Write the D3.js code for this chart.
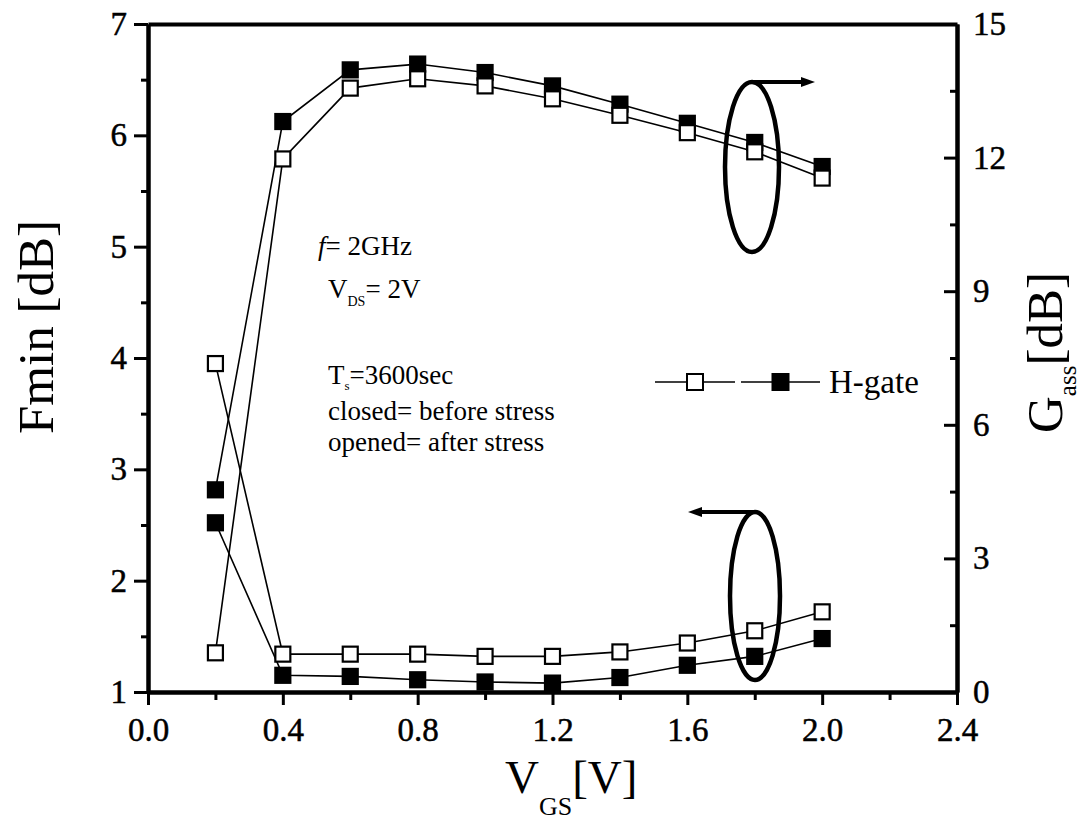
<!DOCTYPE html>
<html>
<head>
<meta charset="utf-8">
<script src="https://cdn.jsdelivr.net/npm/d3@7"></script>
<style>
  body { margin: 0; background: #fff; }
  text { font-family: "Liberation Serif", "Times New Roman", serif; fill: #000; }
</style>
</head>
<body>
<svg id="chart" width="1081" height="820"></svg>
<script>
/* global d3 */

// V_GS sweep and measured values (closed = before stress, opened = after stress)
const vgs = [0.2, 0.4, 0.6, 0.8, 1.0, 1.2, 1.4, 1.6, 1.8, 2.0];
const fminBefore = [2.52, 1.15, 1.14, 1.11, 1.09, 1.08, 1.13, 1.24, 1.32, 1.48];
const fminAfter = [3.95, 1.34, 1.34, 1.34, 1.32, 1.32, 1.36, 1.44, 1.55, 1.72];
const gassBefore = [4.54, 12.81, 13.97, 14.1, 13.91, 13.61, 13.2, 12.77, 12.34, 11.8];
const gassAfter = [0.88, 11.97, 13.56, 13.77, 13.61, 13.32, 12.95, 12.56, 12.13, 11.54];

const xTicks = [0, 0.4, 0.8, 1.2, 1.6, 2.0, 2.4];
const xMinor = [0.2, 0.6, 1.0, 1.4, 1.8, 2.2];
const fminTicks = [1, 2, 3, 4, 5, 6, 7];
const fminMinor = [1.5, 2.5, 3.5, 4.5, 5.5, 6.5];
const gassTicks = [0, 3, 6, 9, 12, 15];
const gassMinor = [1.5, 4.5, 7.5, 10.5, 13.5];

const svg = d3.select('#chart');
const plotLeft = 148;
const plotRight = 957;
const plotTop = 24;
const plotBottom = 692;

const x = d3.scaleLinear().domain([0, 2.4]).range([plotLeft, plotRight]);
const yL = d3.scaleLinear().domain([1, 7]).range([plotBottom, plotTop]);
const yR = d3.scaleLinear().domain([0, 15]).range([plotBottom, plotTop]);

// axes
function styleAxis(g, fontSize) {
  g.select('.domain').attr('stroke-width', 4).attr('stroke', '#000');
  g.selectAll('.tick line').attr('stroke-width', 3).attr('stroke', '#000');
  g.selectAll('.tick text')
    .style('font-family', '"Liberation Serif", "Times New Roman", serif')
    .style('font-size', `${fontSize}px`)
    .attr('fill', '#000')
    .attr('stroke', '#000')
    .attr('stroke-width', 0.5);
}

svg.append('g')
  .attr('transform', `translate(0,${plotBottom})`)
  .call(d3.axisBottom(x).tickValues(xMinor).tickSize(8).tickSizeOuter(0).tickFormat(''))
  .call(g => styleAxis(g, 33));
svg.append('g')
  .attr('transform', `translate(0,${plotBottom})`)
  .call(d3.axisBottom(x).tickValues(xTicks).tickSize(13).tickSizeOuter(0)
    .tickPadding(13).tickFormat(d3.format('.1f')))
  .call(g => styleAxis(g, 33));

svg.append('g')
  .attr('transform', `translate(0,${plotTop})`)
  .call(d3.axisTop(x).tickValues([]).tickSizeOuter(0))
  .call(g => styleAxis(g, 33));

svg.append('g')
  .attr('transform', `translate(${plotLeft},0)`)
  .call(d3.axisLeft(yL).tickValues(fminMinor).tickSize(7).tickSizeOuter(0).tickFormat(''))
  .call(g => styleAxis(g, 33));
svg.append('g')
  .attr('transform', `translate(${plotLeft},0)`)
  .call(d3.axisLeft(yL).tickValues(fminTicks).tickSize(14).tickSizeOuter(0)
    .tickPadding(7).tickFormat(d3.format('d')))
  .call(g => styleAxis(g, 33));

svg.append('g')
  .attr('transform', `translate(${plotRight},0)`)
  .call(d3.axisRight(yR).tickValues(gassMinor).tickSize(-7).tickSizeOuter(0).tickFormat(''))
  .call(g => styleAxis(g, 33));
svg.append('g')
  .attr('transform', `translate(${plotRight},0)`)
  .call(d3.axisRight(yR).tickValues(gassTicks).tickSize(-13).tickSizeOuter(0)
    .tickPadding(16).tickFormat(d3.format('d')))
  .call(g => styleAxis(g, 33));

// axis titles
svg.append('text')
  .attr('transform', 'translate(53,327) rotate(-90)')
  .attr('text-anchor', 'middle')
  .attr('textLength', 214)
  .attr('lengthAdjust', 'spacingAndGlyphs')
  .style('font-size', '50px')
  .text('Fmin [dB]');

const xTitle = svg.append('text')
  .attr('x', 505)
  .attr('y', 793)
  .style('font-size', '47px');
xTitle.append('tspan').text('V');
xTitle.append('tspan').attr('dy', 22).style('font-size', '26px').text('GS');
xTitle.append('tspan').attr('dy', -22).text('[V]');

const yTitle = svg.append('text')
  .attr('transform', 'translate(1062,433) rotate(-90)')
  .style('font-size', '51px');
yTitle.append('tspan').text('G');
yTitle.append('tspan').attr('dy', 14).style('font-size', '25px').text('ass');
yTitle.append('tspan').attr('dy', -14).text('[dB]');

// series
const series = [
  { values: fminBefore, y: yL, filled: true },
  { values: gassBefore, y: yR, filled: true },
  { values: fminAfter, y: yL, filled: false },
  { values: gassAfter, y: yR, filled: false },
];

series.forEach((s) => {
  const line = d3.line().x((d, i) => x(vgs[i])).y(d => s.y(d));
  svg.append('path')
    .datum(s.values)
    .attr('d', line)
    .attr('fill', 'none')
    .attr('stroke', '#000')
    .attr('stroke-width', 1.6);
});

const size = 15;
series.forEach((s) => {
  svg.selectAll(null)
    .data(s.values)
    .enter()
    .append('rect')
    .attr('x', (d, i) => x(vgs[i]) - size / 2)
    .attr('y', d => s.y(d) - size / 2)
    .attr('width', size)
    .attr('height', size)
    .attr('fill', s.filled ? '#000' : '#fff')
    .attr('stroke', '#000')
    .attr('stroke-width', 2.2);
});

// ellipses with arrows pointing at the matching axis
function ellipseArrow(cx, cy, rx, ry, tipX) {
  const g = svg.append('g');
  g.append('ellipse')
    .attr('cx', cx).attr('cy', cy).attr('rx', rx).attr('ry', ry)
    .attr('fill', 'none').attr('stroke', '#000').attr('stroke-width', 4.5);
  const yTop = cy - ry;
  const dir = tipX > cx ? 1 : -1;
  g.append('line')
    .attr('x1', cx).attr('y1', yTop)
    .attr('x2', tipX - dir * 10).attr('y2', yTop)
    .attr('stroke', '#000').attr('stroke-width', 4);
  g.append('path')
    .attr('d', `M${tipX},${yTop} L${tipX - dir * 14},${yTop - 5} L${tipX - dir * 14},${yTop + 5} Z`)
    .attr('fill', '#000');
}
ellipseArrow(752, 167, 27, 85, 815);
ellipseArrow(755, 596, 25, 84, 688);

// condition notes
const notes = svg.append('g').style('font-size', '27px');
const fLine = notes.append('text').attr('x', 318).attr('y', 255);
fLine.append('tspan').style('font-style', 'italic').text('f');
fLine.append('tspan').text('= 2GHz');

const vLine = notes.append('text').attr('x', 328).attr('y', 298);
vLine.append('tspan').text('V');
vLine.append('tspan').attr('dy', 8).style('font-size', '14px').text('DS');
vLine.append('tspan').attr('dy', -8).text('= 2V');

const tLine = notes.append('text').attr('x', 328).attr('y', 384);
tLine.append('tspan').text('T');
tLine.append('tspan').attr('dy', 6).style('font-size', '13px').text('s');
tLine.append('tspan').attr('dy', -6).text('=3600sec');

notes.append('text').attr('x', 328).attr('y', 420).text('closed= before stress');
notes.append('text').attr('x', 328).attr('y', 451).text('opened= after stress');

// legend
const legendY = 382;
const legendItems = [
  { x1: 655, x2: 735, filled: false },
  { x1: 741, x2: 820, filled: true },
];
legendItems.forEach((it) => {
  svg.append('line')
    .attr('x1', it.x1).attr('x2', it.x2)
    .attr('y1', legendY).attr('y2', legendY)
    .attr('stroke', '#000').attr('stroke-width', 1.6);
  const cx = (it.x1 + it.x2) / 2;
  svg.append('rect')
    .attr('x', cx - 8).attr('y', legendY - 8)
    .attr('width', 16).attr('height', 16)
    .attr('fill', it.filled ? '#000' : '#fff')
    .attr('stroke', '#000').attr('stroke-width', 2);
});
svg.append('text')
  .attr('x', 829).attr('y', legendY + 11)
  .style('font-size', '33px')
  .text('H-gate');
</script>
</body>
</html>
